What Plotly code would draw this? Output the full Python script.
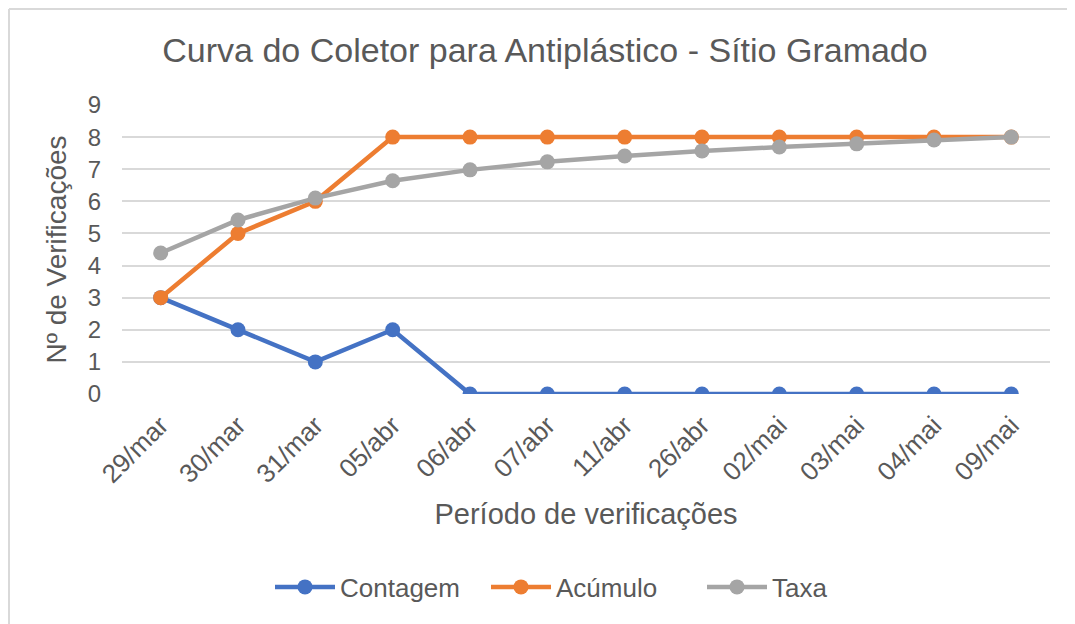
import plotly.graph_objects as go

categories = ["29/mar", "30/mar", "31/mar", "05/abr", "06/abr", "07/abr",
              "11/abr", "26/abr", "02/mai", "03/mai", "04/mai", "09/mai"]
contagem = [3, 2, 1, 2, 0, 0, 0, 0, 0, 0, 0, 0]
acumulo = [3, 5, 6, 8, 8, 8, 8, 8, 8, 8, 8, 8]
taxa = [4.39, 5.42, 6.1, 6.64, 6.98, 7.23, 7.41, 7.57, 7.69, 7.79, 7.91, 8.0]
y_ticks = list(range(0, 10))

FONT = "Liberation Sans, Arial, sans-serif"
TXT = "#595959"

W, H = 1067, 616
L, R, T, B = 114, 25, 97, 230
PH = H - T - B
PW = W - L - R

fig = go.Figure()
for name, vals, col in [("Contagem", contagem, "#4472C4"),
                        ("Acúmulo", acumulo, "#ED7D31"),
                        ("Taxa", taxa, "#A5A5A5")]:
    fig.add_trace(go.Scatter(x=categories, y=vals, name=name, mode="lines+markers",
                             line=dict(color=col, width=4.5),
                             marker=dict(color=col, size=15)))

fig.update_layout(
    width=W, height=H,
    margin=dict(l=L, r=R, t=T, b=B),
    paper_bgcolor="white", plot_bgcolor="white",
    font=dict(family=FONT, color=TXT),
    title=dict(text="Curva do Coletor para Antiplástico - Sítio Gramado",
               x=537 / W, xanchor="center", y=1 - 42 / H, yanchor="middle",
               font=dict(size=34, color=TXT, family=FONT)),
    xaxis=dict(type="category", showgrid=False, tickangle=-45,
               tickfont=dict(size=26, color=TXT), ticks="", showline=False,
               ticklabelstandoff=10,
               title=dict(text="Período de verificações", font=dict(size=29, color=TXT), standoff=16),
               range=[-0.5, len(categories) - 0.5]),
    yaxis=dict(range=[0, 9], tickvals=y_ticks, showgrid=True, gridcolor="#D9D9D9",
               gridwidth=2, zeroline=False, ticks="", ticklabelstandoff=20,
               tickfont=dict(size=24, color=TXT),
               title=dict(text="Nº de Verificações", font=dict(size=28, color=TXT), standoff=12)),
    legend=dict(orientation="h", x=(262 - L) / PW, xanchor="left", y=-(579 - 386) / PH, yanchor="middle",
                font=dict(size=26, color=TXT), itemwidth=60,
                entrywidth=141, entrywidthmode="pixels"),
    showlegend=True,
)
fig.add_shape(type="line", xref="paper", yref="paper",
              x0=-(L - 1) / PW, x1=-(L - 1) / PW, y0=-(H - T - PH) / PH, y1=(T + PH - 1) / PH,
              line=dict(color="#D9D9D9", width=2), layer="below")
fig.add_shape(type="line", xref="paper", yref="paper",
              x0=-(L - 1) / PW, x1=(W - L) / PW, y0=(T + PH - 1) / PH, y1=(T + PH - 1) / PH,
              line=dict(color="#D9D9D9", width=2), layer="below")
fig.write_html("out.html")
